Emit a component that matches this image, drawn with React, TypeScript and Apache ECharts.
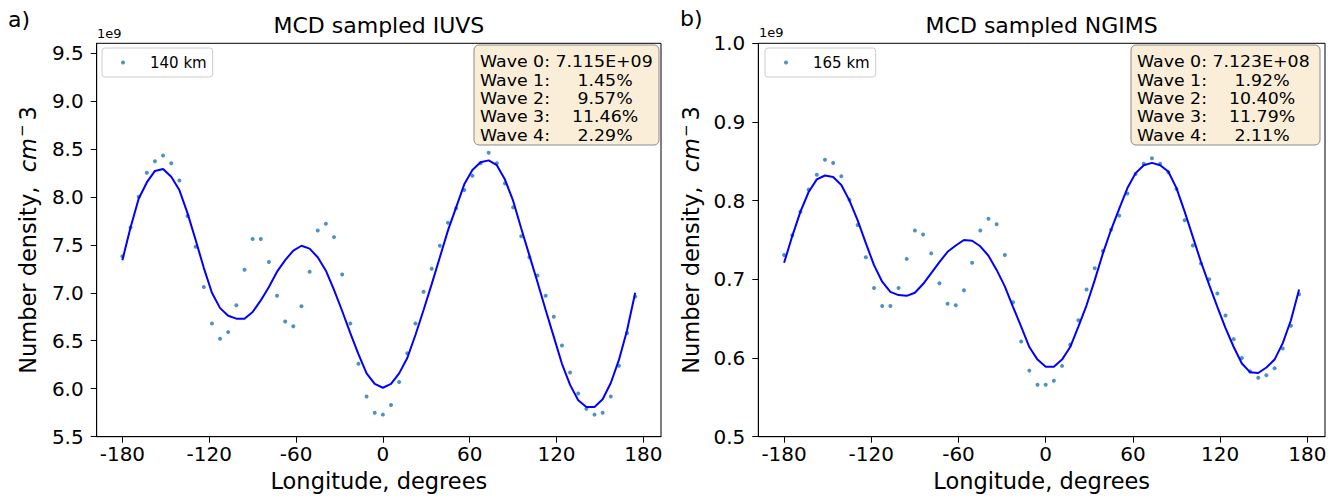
import React, { useEffect, useRef } from "react";
import * as echarts from "echarts";

const FONT = "DejaVu Sans";

// Longitudes (degrees) of the sampled points
const longitudes = [
  -180, -174.375, -168.75, -163.125, -157.5, -151.875, -146.25, -140.625,
  -135, -129.375, -123.75, -118.125, -112.5, -106.875, -101.25, -95.625,
  -90, -84.375, -78.75, -73.125, -67.5, -61.875, -56.25, -50.625,
  -45, -39.375, -33.75, -28.125, -22.5, -16.875, -11.25, -5.625,
  0, 5.625, 11.25, 16.875, 22.5, 28.125, 33.75, 39.375,
  45, 50.625, 56.25, 61.875, 67.5, 73.125, 78.75, 84.375,
  90, 95.625, 101.25, 106.875, 112.5, 118.125, 123.75, 129.375,
  135, 140.625, 146.25, 151.875, 157.5, 163.125, 168.75, 174.375,
];

// Panel a) MCD sampled IUVS, 140 km (units of 1e9 cm^-3)
const iuvsPoints = [
  7.38, 7.68, 8.0, 8.25, 8.37, 8.43, 8.35, 8.17,
  7.8, 7.48, 7.06, 6.68, 6.52, 6.59, 6.87, 7.24,
  7.56, 7.56, 7.32, 6.97, 6.7, 6.65, 6.86, 7.22,
  7.65, 7.72, 7.58, 7.19, 6.68, 6.26, 5.92, 5.75,
  5.73, 5.83, 6.07, 6.37, 6.68, 7.01, 7.25, 7.49,
  7.73, 7.88, 8.07, 8.22, 8.35, 8.46, 8.35, 8.14,
  7.89, 7.59, 7.37, 7.18, 6.97, 6.75, 6.45, 6.17,
  5.95, 5.79, 5.73, 5.75, 5.92, 6.24, 6.58, 6.96,
];
const iuvsFit = [
  7.34, 7.68, 7.98, 8.15, 8.27, 8.29, 8.21, 8.07,
  7.83, 7.55, 7.26, 7.0, 6.84, 6.76, 6.73, 6.73,
  6.8, 6.92, 7.06, 7.22, 7.34, 7.44, 7.49, 7.46,
  7.37, 7.23, 7.03, 6.81, 6.58, 6.36, 6.16, 6.05,
  6.01, 6.05, 6.16, 6.32, 6.56, 6.82, 7.09, 7.37,
  7.65, 7.89, 8.13, 8.28, 8.36, 8.38, 8.33, 8.18,
  7.96, 7.67, 7.39, 7.11, 6.82, 6.54, 6.26, 6.04,
  5.88, 5.81, 5.81, 5.89, 6.06, 6.3, 6.61, 7.0,
];

// Panel b) MCD sampled NGIMS, 165 km (units of 1e9 cm^-3)
const ngimsPoints = [
  0.731, 0.756, 0.786, 0.814, 0.833, 0.852, 0.848, 0.831,
  0.801, 0.769, 0.728, 0.689, 0.666, 0.666, 0.689, 0.726,
  0.762, 0.757, 0.733, 0.695, 0.669, 0.667, 0.686, 0.721,
  0.762, 0.777, 0.77, 0.731, 0.671, 0.621, 0.584, 0.566,
  0.566, 0.571, 0.59, 0.617, 0.648, 0.687, 0.714, 0.736,
  0.763, 0.781, 0.809, 0.834, 0.847, 0.854, 0.847, 0.836,
  0.815, 0.775, 0.743, 0.72, 0.7, 0.682, 0.654, 0.624,
  0.6, 0.583, 0.575, 0.578, 0.587, 0.612, 0.641, 0.681,
];
const ngimsFit = [
  0.721, 0.755, 0.786, 0.811, 0.827, 0.832, 0.83, 0.82,
  0.8, 0.775, 0.746, 0.718, 0.697, 0.684, 0.68, 0.679,
  0.683, 0.694, 0.708, 0.722, 0.735, 0.743, 0.75, 0.749,
  0.742, 0.73, 0.712, 0.691, 0.665, 0.64, 0.614, 0.598,
  0.589, 0.589, 0.598, 0.614, 0.64, 0.667, 0.699, 0.733,
  0.763, 0.79, 0.816, 0.835, 0.845, 0.848, 0.845, 0.837,
  0.816, 0.786, 0.754, 0.722, 0.693, 0.665, 0.638, 0.614,
  0.593, 0.582, 0.581, 0.588, 0.598, 0.619, 0.648, 0.687,
];

const xTicks = [-180, -120, -60, 0, 60, 120, 180];
const iuvsYTicks = [5.5, 6.0, 6.5, 7.0, 7.5, 8.0, 8.5, 9.0, 9.5];
const ngimsYTicks = [0.5, 0.6, 0.7, 0.8, 0.9, 1.0];

const iuvsWaveValues = ["7.115E+09", "1.45%", "9.57%", "11.46%", "2.29%"];
const ngimsWaveValues = ["7.123E+08", "1.92%", "10.40%", "11.79%", "2.11%"];

const NB = "\u00A0";
function waveText(values: string[]): string {
  return values
    .map((v, i) => {
      const pad = Math.max(0, 9 - v.length);
      return "Wave" + NB + i + ":" + NB + NB.repeat(pad) + v;
    })
    .join("\n");
}

const NAME_FS = 22.5;
const yName = "{a|Number density," + NB + NB + "}{b|cm}{c|\u2212}{d|3}";
const yRich = {
  a: { fontSize: NAME_FS, fontFamily: FONT, color: "#000", lineHeight: 26 },
  b: { fontSize: NAME_FS, fontFamily: FONT, color: "#000", fontStyle: "italic", lineHeight: 26 },
  c: { fontSize: 15, fontFamily: FONT, color: "#000", verticalAlign: "top", lineHeight: 26, padding: [0, 1, 0, 1] },
  d: { fontSize: NAME_FS, fontFamily: FONT, color: "#000", lineHeight: 26, padding: [0, 0, 0, 3] },
};

function makeX(gridIndex: number) {
  return {
    type: "value",
    gridIndex,
    min: -197.75,
    max: 192.2,
    axisLine: { show: true, onZero: false, lineStyle: { color: "#000", width: 1 } },
    axisTick: { show: true, inside: false, length: 6, customValues: xTicks, lineStyle: { color: "#000", width: 1 } },
    axisLabel: {
      customValues: xTicks,
      fontSize: 20,
      fontFamily: FONT,
      color: "#000",
      margin: 7,
      formatter: (v: number) => String(v),
    },
    splitLine: { show: false },
    name: "Longitude, degrees",
    nameLocation: "middle",
    nameGap: 33,
    nameTextStyle: { fontSize: NAME_FS, fontFamily: FONT, color: "#000" },
  };
}

function makeY(gridIndex: number, min: number, max: number, ticks: number[], nameGap: number) {
  return {
    type: "value",
    gridIndex,
    min,
    max,
    axisLine: { show: true, onZero: false, lineStyle: { color: "#000", width: 1 } },
    axisTick: { show: true, inside: false, length: 6, customValues: ticks, lineStyle: { color: "#000", width: 1 } },
    axisLabel: {
      customValues: ticks,
      fontSize: 20,
      fontFamily: FONT,
      color: "#000",
      margin: 13,
      formatter: (v: number) => v.toFixed(1),
    },
    splitLine: { show: false },
    name: yName,
    nameLocation: "middle",
    nameGap,
    nameRotate: 90,
    nameTextStyle: { fontSize: NAME_FS, fontFamily: FONT, color: "#000", rich: yRich },
  };
}

function makeLegend(name: string, left: number) {
  return {
    data: [{ name, icon: "circle" }],
    left,
    top: 48,
    orient: "horizontal",
    itemWidth: 4,
    itemHeight: 4,
    padding: [7, 6, 7, 19],
    backgroundColor: "#ffffff",
    borderColor: "#cccccc",
    borderWidth: 1,
    borderRadius: 3,
    selectedMode: false,
    textStyle: { fontSize: 15, fontFamily: FONT, color: "#000", padding: [0, 0, 0, 20] },
  };
}

function pairs(ys: number[]) {
  return longitudes.map((x, i) => [x, ys[i]]);
}

function waveBox(boxX: number, boxW: number, textX: number, values: string[]) {
  return [
    {
      type: "rect",
      shape: { x: boxX, y: 45, width: boxW, height: 100, r: 5 },
      style: { fill: "#faeed9", stroke: "#8a8a8a", lineWidth: 1 },
      z: 10,
    },
    {
      type: "text",
      x: textX,
      y: 53,
      scaleX: 1.12,
      style: {
        text: waveText(values),
        fontSize: 15.5,
        lineHeight: 18.3,
        fontFamily: FONT,
        fill: "#000",
        verticalAlign: "top",
      },
      z: 11,
    },
  ];
}

export default function App() {
  const ref = useRef<HTMLDivElement>(null);
  useEffect(() => {
    if (!ref.current) return;
    const chart = echarts.init(ref.current, undefined, { renderer: "svg" });
    const option: any = {
      animation: false,
      backgroundColor: "#ffffff",
      textStyle: { fontFamily: FONT },
      title: [
        {
          text: "MCD sampled IUVS",
          left: 378.9,
          top: 14,
          padding: 0,
          textAlign: "center",
          textStyle: { fontSize: 22, fontWeight: "normal", color: "#000", fontFamily: FONT },
        },
        {
          text: "MCD sampled NGIMS",
          left: 1041.7,
          top: 14,
          padding: 0,
          textAlign: "center",
          textStyle: { fontSize: 22, fontWeight: "normal", color: "#000", fontFamily: FONT },
        },
      ],
      legend: [makeLegend("140 km", 102), makeLegend("165 km", 765)],
      grid: [
        { left: 96.7, top: 43.3, width: 564.3, height: 393.4, show: true, borderColor: "#000", borderWidth: 1, backgroundColor: "transparent" },
        { left: 758.3, top: 43.3, width: 566.7, height: 393.4, show: true, borderColor: "#000", borderWidth: 1, backgroundColor: "transparent" },
      ],
      xAxis: [makeX(0), makeX(1)],
      yAxis: [makeY(0, 5.5, 9.6, iuvsYTicks, 56), makeY(1, 0.5, 1.0, ngimsYTicks, 54)],
      series: [
        {
          type: "scatter",
          name: "140 km",
          xAxisIndex: 0,
          yAxisIndex: 0,
          data: pairs(iuvsPoints),
          symbolSize: 4,
          itemStyle: { color: "#1f77b4" },
          z: 2,
        },
        {
          type: "line",
          name: "IUVS fit",
          xAxisIndex: 0,
          yAxisIndex: 0,
          data: pairs(iuvsFit),
          showSymbol: false,
          symbol: "none",
          lineStyle: { color: "#0000ff", width: 2 },
          z: 3,
        },
        {
          type: "scatter",
          name: "165 km",
          xAxisIndex: 1,
          yAxisIndex: 1,
          data: pairs(ngimsPoints),
          symbolSize: 4,
          itemStyle: { color: "#1f77b4" },
          z: 2,
        },
        {
          type: "line",
          name: "NGIMS fit",
          xAxisIndex: 1,
          yAxisIndex: 1,
          data: pairs(ngimsFit),
          showSymbol: false,
          symbol: "none",
          lineStyle: { color: "#0000ff", width: 2 },
          z: 3,
        },
      ],
      graphic: [
        { type: "text", left: 8, top: 8, style: { text: "a)", fontSize: 22, fontFamily: FONT, fill: "#000" } },
        { type: "text", left: 680, top: 7, style: { text: "b)", fontSize: 22, fontFamily: FONT, fill: "#000" } },
        { type: "text", left: 97, top: 27, style: { text: "1e9", fontSize: 13, fontFamily: FONT, fill: "#000" } },
        { type: "text", left: 759, top: 26, style: { text: "1e9", fontSize: 13, fontFamily: FONT, fill: "#000" } },
        ...waveBox(474, 185, 480, iuvsWaveValues),
        ...waveBox(1131, 189, 1137, ngimsWaveValues),
      ],
    };
    chart.setOption(option);
    return () => chart.dispose();
  }, []);
  return (
    <div
      ref={ref}
      style={{ position: "fixed", left: 0, top: 0, width: 1338, height: 498, background: "#fff" }}
    />
  );
}
